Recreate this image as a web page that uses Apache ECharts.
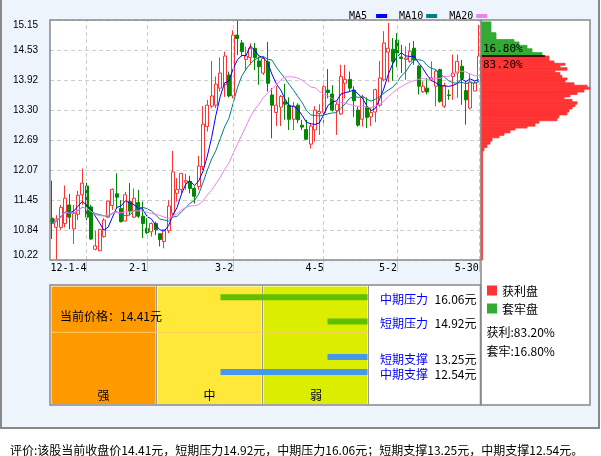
<!DOCTYPE html>
<html><head><meta charset="utf-8">
<script src="https://cdn.jsdelivr.net/npm/echarts@6/dist/echarts.min.js"></script>
<style>html,body{margin:0;padding:0;background:#fff}#c{width:601px;height:456px}</style>
</head><body><div id="c"></div>
<script>
const dates = ['2011-12-21','2011-12-22','2011-12-23','2011-12-26','2011-12-27','2011-12-28','2011-12-29','2011-12-30',
'2012-01-04','2012-01-05','2012-01-06','2012-01-09','2012-01-10','2012-01-11','2012-01-12','2012-01-13','2012-01-16','2012-01-17','2012-01-18','2012-01-19','2012-01-20','2012-01-30',
'2012-02-01','2012-02-02','2012-02-03','2012-02-06','2012-02-07','2012-02-08','2012-02-09','2012-02-10','2012-02-15','2012-02-16','2012-02-17','2012-02-20','2012-02-21','2012-02-22','2012-02-23','2012-02-24','2012-02-27','2012-02-28','2012-02-29',
'2012-03-01','2012-03-02','2012-03-05','2012-03-06','2012-03-07','2012-03-08','2012-03-09','2012-03-12','2012-03-13','2012-03-14','2012-03-15','2012-03-16','2012-03-19','2012-03-20','2012-03-21','2012-03-22','2012-03-23','2012-03-26','2012-03-27','2012-03-28','2012-03-29','2012-03-30',
'2012-04-05','2012-04-06','2012-04-09','2012-04-10','2012-04-11','2012-04-12','2012-04-13','2012-04-16','2012-04-17','2012-04-18','2012-04-19','2012-04-20','2012-04-23','2012-04-24','2012-04-25','2012-04-26','2012-04-27',
'2012-05-02','2012-05-03','2012-05-04','2012-05-07','2012-05-08','2012-05-09','2012-05-10','2012-05-11','2012-05-14','2012-05-15','2012-05-16','2012-05-17','2012-05-18','2012-05-21','2012-05-22','2012-05-23','2012-05-24','2012-05-28','2012-05-29','2012-05-30'];

const opens = [11.08,10.89,10.89,10.97,11.35,10.86,11.16,11.56,11.74,11.31,
10.44,10.41,10.70,11.10,11.34,11.58,11.28,11.02,11.42,11.10,
11.40,11.12,10.87,10.80,10.97,10.76,10.60,10.82,11.18,11.59,
11.67,11.82,11.83,11.69,11.73,12.14,12.96,13.38,13.40,13.75,
13.82,14.02,13.59,14.84,14.68,14.34,14.38,14.57,14.31,14.06,
14.29,13.61,13.25,13.36,13.47,13.40,13.11,13.40,12.99,12.90,
12.60,12.89,13.23,13.25,13.71,13.63,13.29,13.22,13.85,13.93,
13.71,13.30,13.11,13.36,13.16,13.26,13.40,13.92,14.49,14.55,
14.74,14.39,14.34,14.30,14.57,14.20,13.68,13.75,13.92,13.79,
14.13,13.38,13.61,13.99,14.06,14.20,13.70,13.34,13.69,13.89];
const closes = [10.97,11.06,11.30,11.49,11.10,11.18,11.55,11.80,11.10,10.65,
10.51,10.85,11.04,11.43,11.67,11.51,11.01,11.56,11.21,11.49,
11.12,10.97,10.78,10.97,10.84,10.64,10.84,11.33,12.03,11.67,
12.00,11.85,11.69,11.53,12.15,13.01,13.40,13.59,13.83,14.06,
14.41,13.59,14.84,14.77,14.50,14.41,14.57,14.38,14.19,14.36,
13.85,13.40,13.40,13.58,13.42,13.11,13.38,13.10,12.95,12.70,
12.97,13.30,13.27,13.78,13.66,13.30,13.42,13.99,13.93,13.75,
13.49,12.99,13.56,13.15,13.25,13.72,13.96,14.68,14.57,14.30,
14.47,14.36,14.37,14.51,14.33,13.79,13.79,13.67,13.96,14.10,
13.48,13.79,13.60,14.06,14.30,13.95,13.51,13.88,13.86,14.41];
const lows = [10.65,10.23,10.84,10.89,10.85,10.55,11.04,11.35,11.04,10.63,
10.42,10.40,10.68,11.08,11.25,11.28,10.99,11.01,11.14,11.08,
11.08,10.67,10.75,10.70,10.73,10.50,10.46,10.77,11.11,11.42,
11.59,11.66,11.59,11.38,11.66,12.07,12.86,13.34,13.34,13.68,
13.57,13.56,13.54,14.43,14.40,14.12,14.23,14.12,13.82,14.02,
13.68,12.72,12.97,12.97,13.10,12.89,12.89,13.03,12.89,12.69,
12.51,12.65,12.79,13.03,13.54,13.27,12.79,13.20,13.54,13.68,
13.16,12.96,12.96,12.93,12.97,13.05,13.36,13.89,13.87,13.90,
14.18,14.06,13.92,14.27,14.23,13.62,13.65,13.62,13.89,13.38,
13.45,13.34,13.51,13.51,13.55,13.41,13.00,13.31,13.69,13.88];
const highs = [11.85,11.14,11.35,11.75,11.58,11.35,11.64,12.10,11.83,11.35,
10.82,10.86,11.08,11.43,11.69,12.00,11.45,11.62,11.80,11.69,
11.66,11.42,11.08,10.99,11.01,10.76,10.84,11.45,12.46,11.90,
12.01,11.99,11.95,11.73,12.36,13.38,13.51,14.31,13.99,14.38,
14.50,14.09,14.94,15.15,14.74,14.60,14.67,14.68,14.40,14.40,
14.70,13.75,13.79,13.61,13.84,13.56,13.47,13.44,13.10,13.10,
13.03,13.38,13.42,13.81,14.14,13.81,13.47,14.23,14.23,14.09,
13.79,13.38,13.61,13.56,13.34,13.74,14.31,14.92,15.09,14.78,
14.88,14.64,14.61,14.68,14.72,14.23,13.89,13.96,14.30,14.13,
14.15,13.86,13.72,14.44,14.44,14.33,13.89,14.06,13.90,15.05];

const tickDates = ['2012-01-04','2012-02-01','2012-03-02','2012-04-05','2012-05-02','2012-05-30'];
const tickLabels = ['12-1-4','2-1','3-2','4-5','5-2','5-30'];
const yTickLabels = ['10.22','10.84','11.45','12.07','12.69','13.30','13.92','14.53','15.15'];
const yMin = 10.22, yMax = 15.15;

const chipHigh = [15.11,14.89,14.75,14.70,14.63,14.56,14.48,
14.41,14.31,14.26,14.22,14.17,14.12,14.07,14.01,13.96,13.92,13.86,13.81,13.77,13.73,13.67,13.62,13.57,13.52,13.47,13.42,13.37,13.32,13.26,13.20,13.14,13.08,13.03,12.97,12.93,12.89,12.83,12.78,12.73,12.66,12.60,12.53,12.46];
const chipLow = [14.89,14.75,14.70,14.63,14.56,14.48,14.41,
14.31,14.26,14.22,14.17,14.12,14.07,14.01,13.96,13.92,13.86,13.81,13.77,13.73,13.67,13.62,13.57,13.52,13.47,13.42,13.37,13.32,13.26,13.20,13.14,13.08,13.03,12.97,12.93,12.89,12.83,12.78,12.73,12.66,12.60,12.53,12.46,10.22];
const chipVolume = [10,15,33,38,46,51,61,
68,73,84,79,86,74,79,81,86,84,93,106,109,103,96,89,83,91,96,94,91,88,86,78,76,58,54,46,34,29,23,18,11,9,6,3,1.5];

const currentPrice = 14.41;
const profitPct = '83.20%';
const trappedPct = '16.80%';
const levelNames = ['中期压力','短期压力','短期支撑','中期支撑'];
const levelPrices = [16.06,14.92,13.25,12.54];
const levelBarLen = [147,40,40,147];
const strengthNames = ['强','中','弱'];

function ma(n){
  return closes.map((_, i) => {
    const s = Math.max(0, i - n + 1); let sum = 0;
    for (let k = s; k <= i; k++) sum += closes[k];
    return +(sum / (i - s + 1)).toFixed(3);
  });
}
const tickIdx = tickDates.map(d => dates.indexOf(d));
const CJK = '"Noto Sans CJK SC", sans-serif';
const MONO = '"DejaVu Sans Mono", monospace';
const RED = '#FF3333', GREEN = '#008800';

const chart = echarts.init(document.getElementById('c'));
const txt = (x, y, text, opt) => Object.assign({type:'text', x, y, z:100,
  style: Object.assign({text, fill:'#000', font:'12px ' + CJK, textVerticalAlign:'middle', verticalAlign:'middle'}, opt || {})});

chart.setOption({
  animation: false,
  backgroundColor: '#fff',
  legend: {
    data: ['MA5','MA10','MA20'], icon: 'rect', itemWidth: 11, itemHeight: 4, align: 'right',
    left: 344, top: 6, itemGap: 12, selectedMode: false,
    formatter: n => n.length < 4 ? n + ' ' : n,
    textStyle: {fontFamily: MONO, fontSize: 10, color: '#000', padding: [0,-2,0,0]}
  },
  grid: [
    {left: 50, top: 20, width: 431, height: 240},
    {left: 481, top: 20, width: 108, height: 240},
    {left: 51.5, top: 285, width: 316, height: 120}
  ],
  xAxis: [
    {type: 'category', gridIndex: 0, data: dates, boundaryGap: true,
     axisLine: {show: false},
     axisTick: {show: true, alignWithLabel: true, length: 12, interval: i => tickIdx.includes(i), lineStyle: {color: '#ccc'}},
     axisLabel: {interval: i => tickIdx.includes(i), formatter: (v, i) => { const k = tickIdx.indexOf(i); return k >= 0 ? tickLabels[k] : ''; },
       align: 'right', margin: 3, fontFamily: MONO, fontSize: 10, color: '#000'},
     splitLine: {show: false}},
    {type: 'value', gridIndex: 1, min: 0, max: 108, show: false},
    {type: 'value', gridIndex: 2, min: 0, max: 316, inverse: true, show: false}
  ],
  yAxis: [
    {type: 'value', gridIndex: 0, min: yMin, max: yMax, interval: (yMax - yMin) / 8,
     axisLine: {show: false}, axisTick: {show: false},
     axisLabel: {formatter: (v, i) => yTickLabels[i], margin: 12, fontFamily: '"Liberation Sans", Arial, sans-serif', fontSize: 10, color: '#000',
       verticalAlignMinLabel: 'bottom', verticalAlignMaxLabel: 'top'},
     splitLine: {show: true, lineStyle: {color: '#ccc', type: [4, 3]}}},
    {type: 'value', gridIndex: 1, min: yMin, max: yMax, show: false},
    {type: 'value', gridIndex: 2, min: 10.995, max: 16.631, show: false}
  ],
  series: [
    {type: 'line', name: 'grid-x', xAxisIndex: 0, yAxisIndex: 0, data: [], z: 1, silent: true,
     markLine: {silent: true, symbol: 'none', label: {show: false},
       lineStyle: {color: '#ccc', type: [4, 3], width: 1},
       data: tickIdx.map(i => ({xAxis: i}))}},
    {type: 'candlestick', name: 'K', xAxisIndex: 0, yAxisIndex: 0, z: 3, barWidth: 3.5,
     data: opens.map((o, i) => [o, closes[i], lows[i], highs[i]]),
     itemStyle: {color: '#fff', color0: GREEN, borderColor: RED, borderColor0: GREEN, borderWidth: 1}},
    {type: 'line', name: 'MA5', data: ma(5), showSymbol: false, symbol: 'none', z: 4, color: '#0000FF', lineStyle: {width: 1, color: '#0000FF'}},
    {type: 'line', name: 'MA10', data: ma(10), showSymbol: false, symbol: 'none', z: 4, color: '#008080', lineStyle: {width: 1, color: '#008080'}},
    {type: 'line', name: 'MA20', data: ma(20), showSymbol: false, symbol: 'none', z: 4, color: '#EE82EE', lineStyle: {width: 1, color: '#EE82EE'}},
    {type: 'custom', name: 'chips', xAxisIndex: 1, yAxisIndex: 1, z: 3,
     dimensions: ['high','low','vol'], encode: {x: 2, y: [0, 1]},
     data: chipHigh.map((h, i) => [h, chipLow[i], chipVolume[i]]),
     renderItem: (params, api) => {
       const hi = api.value(0), lo = api.value(1), vol = api.value(2);
       const p0 = api.coord([0, hi]), p1 = api.coord([vol, lo]);
       const c = lo >= currentPrice - 1e-9 ? '#33AA33' : RED;
       return {type: 'rect', shape: {x: p0[0], y: p0[1], width: p1[0] - p0[0], height: p1[1] - p0[1]},
         style: {fill: c, stroke: c, lineWidth: 0.8}};
     }},
    {type: 'line', name: 'price-line', xAxisIndex: 1, yAxisIndex: 1, z: 5, silent: true, symbol: 'none', clip: false,
     data: [[0, currentPrice], [64, currentPrice]], lineStyle: {color: '#000', width: 1.5}},
    {type: 'line', name: 'cur-line', xAxisIndex: 2, yAxisIndex: 2, z: 2, silent: true, symbol: 'none', clip: false,
     data: [[318, currentPrice], [-2, currentPrice]], lineStyle: {color: '#FFCC66', width: 1}},
    {type: 'custom', name: 'levels', xAxisIndex: 2, yAxisIndex: 2, z: 4,
     dimensions: ['len','price'], encode: {x: 0, y: 1},
     data: levelBarLen.map((l, i) => [l, levelPrices[i]]),
     renderItem: (params, api) => {
       const len = api.value(0), price = api.value(1), idx = params.dataIndex;
       const pR = api.coord([0, price]), pL = api.coord([len, price]);
       return {type: 'group', children: [
         {type: 'rect', shape: {x: pL[0], y: pR[1] - 3, width: pR[0] - pL[0], height: 6},
          style: {fill: idx < 2 ? '#5FBF00' : '#4499EE'}},
         {type: 'text', x: pR[0] + 12.5, y: pR[1] + 2.5,
          style: {text: levelNames[idx], fill: '#0000FF', font: '12px ' + CJK, textVerticalAlign: 'middle', verticalAlign: 'middle'}},
         {type: 'text', x: pR[0] + 67, y: pR[1] + 2.5,
          style: {text: levelPrices[idx].toFixed(2) + '元', fill: '#000', font: '12px ' + CJK, textVerticalAlign: 'middle', verticalAlign: 'middle'}}
       ]};
     }}
  ],
  graphic: [
    {type: 'rect', z: -10, shape: {x: 1, y: -3, width: 598, height: 431}, style: {fill: '#EDF4FC', stroke: '#888', lineWidth: 2}},
    {type: 'rect', z: -6, shape: {x: 481, y: 20, width: 109, height: 385}, style: {fill: '#fff', stroke: '#888', lineWidth: 1.5}},
    {type: 'rect', z: -6, shape: {x: 50, y: 20, width: 431, height: 240}, style: {fill: '#fff'}},
    {type: 'rect', z: 50, shape: {x: 50, y: 20, width: 431, height: 240}, style: {fill: 'none', stroke: '#888', lineWidth: 1.5}},
    {type: 'rect', z: -6, shape: {x: 50, y: 285, width: 430.5, height: 120}, style: {fill: '#fff', stroke: '#888', lineWidth: 1.5}},
    {type: 'rect', z: -5, shape: {x: 51.5, y: 286.5, width: 104, height: 117.5}, style: {fill: '#FF9900'}},
    {type: 'rect', z: -5, shape: {x: 157.5, y: 286.5, width: 104, height: 117.5}, style: {fill: '#FFE838'}},
    {type: 'rect', z: -5, shape: {x: 263.5, y: 286.5, width: 104, height: 117.5}, style: {fill: '#DCEE00'}},
    {type: 'line', z: -4, shape: {x1: 156.5, y1: 285, x2: 156.5, y2: 405}, style: {stroke: '#999', lineWidth: 1}},
    {type: 'line', z: -4, shape: {x1: 262.5, y1: 285, x2: 262.5, y2: 405}, style: {stroke: '#999', lineWidth: 1}},
    {type: 'line', z: -4, shape: {x1: 368.5, y1: 285, x2: 368.5, y2: 405}, style: {stroke: '#999', lineWidth: 1}},
    txt(103.5, 395, strengthNames[0], {textAlign: 'center', align: 'center'}),
    txt(209.5, 395, strengthNames[1], {textAlign: 'center', align: 'center'}),
    txt(316, 395, strengthNames[2], {textAlign: 'center', align: 'center'}),
    txt(60, 316, '当前价格：' + currentPrice.toFixed(2) + '元'),
    txt(483, 49.5, trappedPct, {font: '11px ' + MONO}),
    txt(483, 65.5, profitPct, {font: '11px ' + MONO}),
    {type: 'rect', z: 100, shape: {x: 487, y: 285.5, width: 10, height: 10}, style: {fill: RED}},
    {type: 'rect', z: 100, shape: {x: 487, y: 303.5, width: 10, height: 10}, style: {fill: '#33AA33'}},
    txt(502, 291, '获利盘'),
    txt(502, 309, '套牢盘'),
    txt(486.5, 332, '获利:' + profitPct),
    txt(486.5, 351, '套牢:' + trappedPct),
    txt(10, 450.5, '评价:该股当前收盘价' + currentPrice.toFixed(2) + '元，短期压力' + levelPrices[1].toFixed(2) + '元，中期压力' + levelPrices[0].toFixed(2) + '元；短期支撑' + levelPrices[2].toFixed(2) + '元，中期支撑' + levelPrices[3].toFixed(2) + '元。')
  ]
});
</script></body></html>
